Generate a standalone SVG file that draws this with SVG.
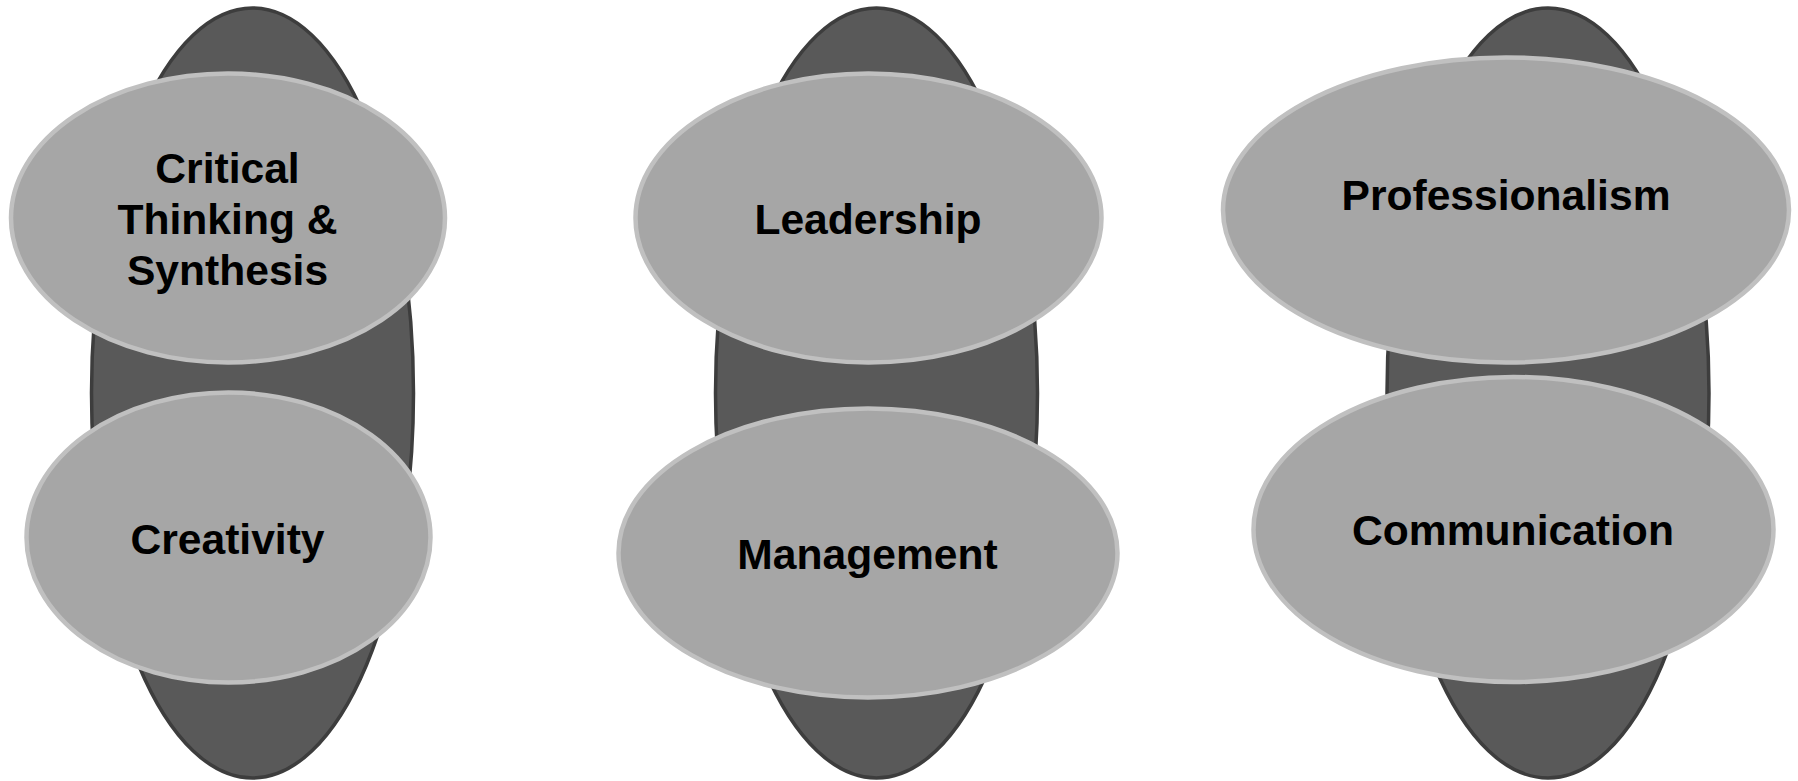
<svg xmlns="http://www.w3.org/2000/svg" width="1798" height="781" viewBox="0 0 1798 781">
<style>
.back{fill:#595959;stroke:#3d3d3d;stroke-width:3.5}
.node{fill:#a6a6a6;stroke:#c0c0c0;stroke-width:4.5}
.lbl{font-family:"Liberation Sans",Arial,sans-serif;font-weight:bold;font-size:42.6px;fill:#000;text-anchor:middle}
</style>
<rect width="1798" height="781" fill="#ffffff"/>
<g id="backgrounds">
<ellipse class="back" cx="252.5" cy="393" rx="161" ry="385"/>
<ellipse class="back" cx="876.5" cy="393" rx="161" ry="385"/>
<ellipse class="back" cx="1548" cy="393" rx="161" ry="385"/>
</g>
<g id="connectors"></g>
<g id="node-critical">
<ellipse class="node" cx="228" cy="218" rx="217" ry="144.5"/>
<text class="lbl" x="227.5" y="183">Critical</text>
<text class="lbl" x="227.5" y="234">Thinking &amp;</text>
<text class="lbl" x="227.5" y="285">Synthesis</text>
</g>
<g id="node-creativity">
<ellipse class="node" cx="228.5" cy="537.5" rx="202" ry="145"/>
<text class="lbl" x="227.5" y="554">Creativity</text>
</g>
<g id="node-leadership">
<ellipse class="node" cx="868.5" cy="218" rx="233" ry="144.5"/>
<text class="lbl" x="868" y="234">Leadership</text>
</g>
<g id="node-management">
<ellipse class="node" cx="868" cy="553" rx="249.5" ry="144.5"/>
<text class="lbl" x="867.5" y="569">Management</text>
</g>
<g id="node-professionalism">
<ellipse class="node" cx="1506" cy="210" rx="283" ry="152.5"/>
<text class="lbl" x="1506" y="210">Professionalism</text>
</g>
<g id="node-communication">
<ellipse class="node" cx="1513.5" cy="529.5" rx="260" ry="152.5"/>
<text class="lbl" x="1513" y="545">Communication</text>
</g>
</svg>
